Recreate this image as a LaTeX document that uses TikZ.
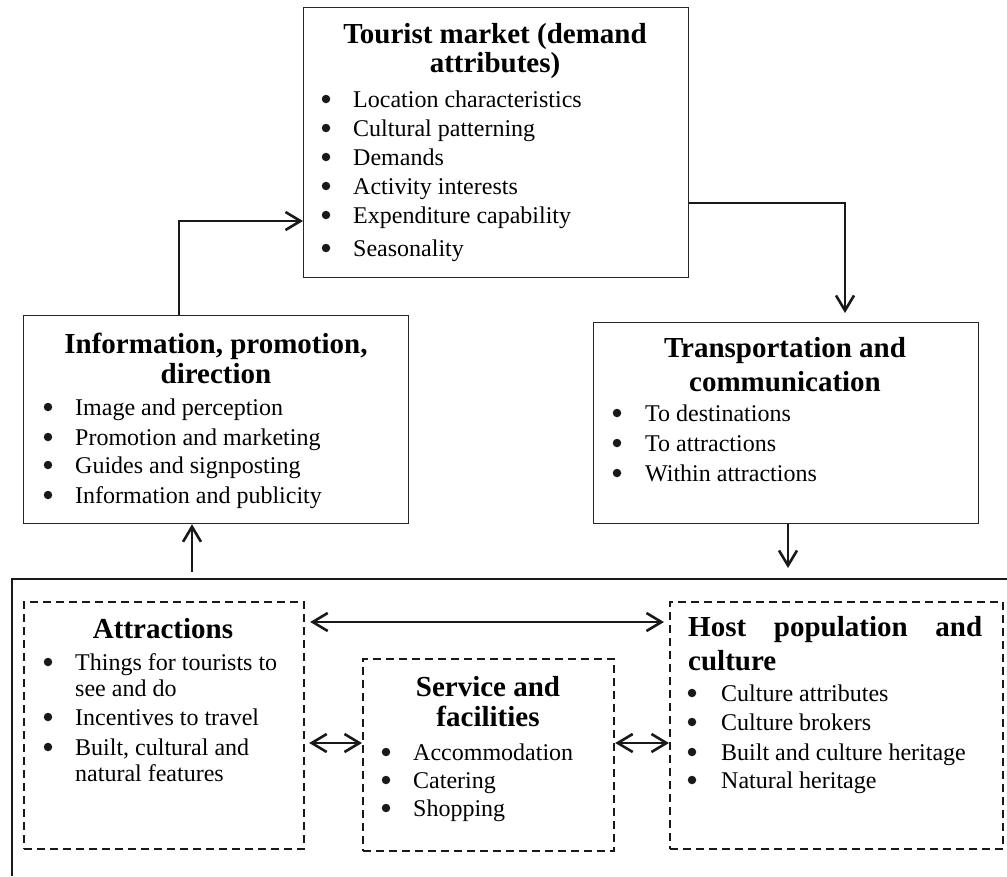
\documentclass[tikz,border=0pt]{standalone}
\usepackage{fontspec}
\setmainfont{Liberation Serif}
\usetikzlibrary{arrows.meta}
\begin{document}
\begin{tikzpicture}[x=1pt,y=-1pt,
  box/.style={draw=black!85, line width=1.3pt, anchor=north west, inner sep=0, minimum width=385pt},
  dbox/.style={draw=black!90, line width=2.2pt, dash pattern=on 8pt off 5pt, anchor=north west, inner sep=0},
  frame/.style={draw=black!90, line width=2pt},
  arr/.style={draw=black!90, line width=2.6pt, -{Straight Barb[length=15pt,width=18pt,line width=2.6pt]}},
  darr/.style={draw=black!90, line width=2.6pt, {Straight Barb[length=15pt,width=18pt,line width=2.6pt]}-{Straight Barb[length=15pt,width=18pt,line width=2.6pt]}},
  txt/.style={anchor=base west, inner sep=0, font=\fontsize{24}{29}\selectfont},
  bul/.style={circle, fill=black!90, inner sep=0, minimum size=8.5pt, yshift=8pt},
  ttl/.style={anchor=base, inner sep=0, font=\fontsize{29}{30}\selectfont\bfseries},
  ttlw/.style={anchor=base west, inner sep=0, font=\fontsize{29}{30}\selectfont\bfseries}]
\useasboundingbox (0,0) rectangle (1007,876);
\fill[white] (0,0) rectangle (1007,876);

% boxes
\node[box, minimum height=270pt] (tm) at (303,7) {};
\node[box, minimum height=208pt] (info) at (23,315) {};
\node[box, minimum height=201pt] (tr) at (593,322) {};
\node[dbox, minimum width=280pt, minimum height=247pt] (attr) at (23,601) {};
\node[dbox, minimum width=251pt, minimum height=192pt] (serv) at (362,658) {};
\node[dbox, minimum width=333pt, minimum height=247pt] (host) at (669,601) {};

% outer frame
\coordinate (fTR) at (1007,579);
\coordinate (fTL) at (12,579);
\coordinate (fBL) at (12,876);
\draw[frame] (fTR) -- (fTL) -- (fBL);

% Tourist market
\node[ttl] (tmT1) at (495,43) {Tourist market (demand};
\node[ttl] (tmT2) at (495,72) {attributes)};
\foreach \y/\t [count=\i] in {107/Location characteristics,136/Cultural patterning,165/Demands,194/Activity interests,223/Expenditure capability,256/Seasonality}{
  \node[bul] (tmB\i) at (326,\y) {};
  \node[txt] (tmL\i) at (353,\y) {\t};
}

% Information
\node[ttl] (inT1) at (216,353) {Information, promotion,};
\node[ttl] (inT2) at (216,383) {direction};
\foreach \y/\t [count=\i] in {415/Image and perception,445/Promotion and marketing,473/Guides and signposting,503/Information and publicity}{
  \node[bul] (inB\i) at (48,\y) {};
  \node[txt] (inL\i) at (75,\y) {\t};
}

% Transportation
\node[ttl] (trT1) at (785,357) {Transportation and};
\node[ttl] (trT2) at (785,391) {communication};
\foreach \y/\t [count=\i] in {421/To destinations,451/To attractions,481/Within attractions}{
  \node[bul] (trB\i) at (617,\y) {};
  \node[txt] (trL\i) at (645,\y) {\t};
}

% Attractions
\node[ttl] (atT1) at (163,638) {Attractions};
\node[bul] (atB1) at (48,670) {};
\node[txt] (atL1) at (75,670) {Things for tourists to};
\node[txt] (atL1b) at (75,696) {see and do};
\node[bul] (atB2) at (48,725) {};
\node[txt] (atL2) at (75,725) {Incentives to travel};
\node[bul] (atB3) at (48,755) {};
\node[txt] (atL3) at (75,755) {Built, cultural and};
\node[txt] (atL3b) at (75,781) {natural features};

% Service
\node[ttl] (svT1) at (488,696) {Service and};
\node[ttl] (svT2) at (488,726) {facilities};
\foreach \y/\t [count=\i] in {760/Accommodation,788/Catering,816/Shopping}{
  \node[bul] (svB\i) at (386,\y) {};
  \node[txt] (svL\i) at (413,\y) {\t};
}

% Host
\node[ttlw] (hoT1) at (688,636) {\makebox[294pt][s]{Host population and}};
\node[ttlw] (hoT2) at (688,670) {culture};
\foreach \y/\t [count=\i] in {701/Culture attributes,730/Culture brokers,760/Built and culture heritage,788/Natural heritage}{
  \node[bul] (hoB\i) at (692,\y) {};
  \node[txt] (hoL\i) at (721,\y) {\t};
}

% connectors
\coordinate (c1) at (179,221);
\draw[arr] (c1 |- info.north) -- (c1) -- (c1 -| tm.west);
\coordinate (c2) at (845,203);
\draw[arr, shorten >=9pt] (c2 -| tm.east) -- (c2) -- (c2 |- tr.north);
\coordinate (c3) at (192,579);
\draw[arr, shorten <=7pt] (c3) -- (c3 |- info.south);
\coordinate (c4) at (788,579);
\draw[arr, shorten >=11pt] (c4 |- tr.south) -- (c4);
\coordinate (c5) at (500,622);
\draw[darr, shorten <=5pt, shorten >=5pt] (c5 -| attr.east) -- (c5 -| host.west);
\coordinate (c6) at (500,743);
\draw[darr, shorten <=4pt] (c6 -| attr.east) -- (c6 -| serv.west);
\draw[darr] (c6 -| serv.east) -- (c6 -| host.west);
\end{tikzpicture}
\end{document}
